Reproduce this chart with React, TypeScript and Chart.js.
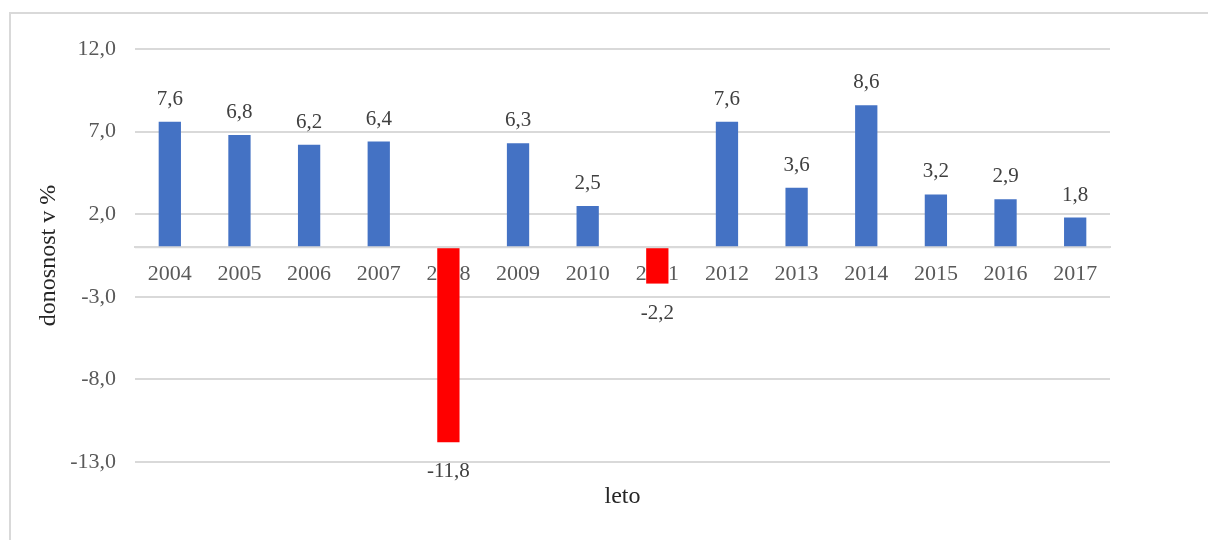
import React, { useEffect, useRef } from "react";
import { Chart, registerables } from "chart.js";

Chart.register(...registerables);

const years: string[] = ["2004", "2005", "2006", "2007", "2008", "2009", "2010", "2011", "2012", "2013", "2014", "2015", "2016", "2017"];
const returns: number[] = [7.6, 6.8, 6.2, 6.4, -11.8, 6.3, 2.5, -2.2, 7.6, 3.6, 8.6, 3.2, 2.9, 1.8];
const yMin = -13;
const yMax = 12;
const yStep = 5;
const xTitle = "leto";
const yTitle = "donosnost v %";

const FONT = "'Liberation Serif', 'DejaVu Serif', serif";
const fmt = (v: number) => v.toFixed(1).replace(".", ",");

const framePlugin = {
  id: "frame",
  beforeDraw(chart: any) {
    const ctx = chart.ctx;
    ctx.save();
    ctx.strokeStyle = "#d9d9d9";
    ctx.lineWidth = 2;
    ctx.beginPath();
    ctx.moveTo(10, 540);
    ctx.lineTo(10, 13);
    ctx.lineTo(1208, 13);
    ctx.stroke();
    ctx.restore();
  },
};

const labelPlugin = {
  id: "valueLabels",
  afterDatasetsDraw(chart: any) {
    const ctx = chart.ctx;
    const meta = chart.getDatasetMeta(0);
    const area = chart.chartArea;
    const zeroY = chart.scales.y.getPixelForValue(0);
    ctx.save();
    ctx.strokeStyle = "#d9d9d9";
    ctx.lineWidth = 2;
    ctx.beginPath();
    ctx.moveTo(area.left, zeroY);
    ctx.lineTo(area.right, zeroY);
    ctx.stroke();
    ctx.font = `21px ${FONT}`;
    ctx.fillStyle = "#404040";
    ctx.textAlign = "center";
    ctx.textBaseline = "alphabetic";
    meta.data.forEach((bar: any, i: number) => {
      const v = returns[i];
      const y = v >= 0 ? bar.y - 17 : bar.y + 35;
      ctx.fillText(fmt(v), bar.x, y);
    });
    ctx.restore();
  },
};

export default function App() {
  const ref = useRef<HTMLCanvasElement>(null);
  useEffect(() => {
    if (!ref.current) return;
    const chart = new Chart(ref.current, {
      type: "bar",
      data: {
        labels: years,
        datasets: [
          {
            data: returns,
            backgroundColor: returns.map((v) => (v < 0 ? "#ff0000" : "#4472c4")),
            borderWidth: 0,
            categoryPercentage: 1,
            barPercentage: 0.32,
            xAxisID: "x",
          },
        ],
      },
      options: {
        animation: false,
        responsive: false,
        maintainAspectRatio: false,
        layout: { padding: { left: 0, top: 49, right: 98, bottom: 0 } },
        plugins: { legend: { display: false }, tooltip: { enabled: false } },
        scales: {
          x: {
            type: "category",
            position: { y: 0 } as any,
            grid: { display: false, drawTicks: false },
            border: { display: true, color: "#d9d9d9", width: 2 },
            ticks: {
              color: "#595959",
              font: { family: FONT, size: 22 },
              padding: 14,
              maxRotation: 0,
              autoSkip: false,
            },
          },
          x2: {
            type: "category",
            position: "bottom",
            labels: years,
            grid: { display: false, drawTicks: false },
            border: { display: false },
            ticks: { display: false },
            title: {
              display: true,
              text: xTitle,
              color: "#262626",
              font: { family: FONT, size: 24 },
              padding: { top: 20, bottom: 29 },
            },
            afterFit: (s: any) => {
              s.height = 78;
            },
          },
          y: {
            min: yMin,
            max: yMax,
            grid: { color: "#d9d9d9", lineWidth: 2, drawTicks: false },
            border: { display: false },
            ticks: {
              stepSize: yStep,
              color: "#595959",
              font: { family: FONT, size: 22 },
              padding: 19,
              callback: (v: any) => fmt(Number(v)),
            },
            title: {
              display: true,
              text: yTitle,
              color: "#262626",
              font: { family: FONT, size: 24 },
              padding: { top: 34, bottom: 0 },
            },
            afterFit: (s: any) => {
              s.width = 135;
            },
          },
        },
      },
      plugins: [framePlugin, labelPlugin],
    });
    return () => chart.destroy();
  }, []);
  return (
    <div style={{ position: "fixed", left: 0, top: 0, width: 1208, height: 540, background: "#fff" }}>
      <canvas ref={ref} width={1208} height={540} style={{ width: 1208, height: 540, display: "block" }} />
    </div>
  );
}
